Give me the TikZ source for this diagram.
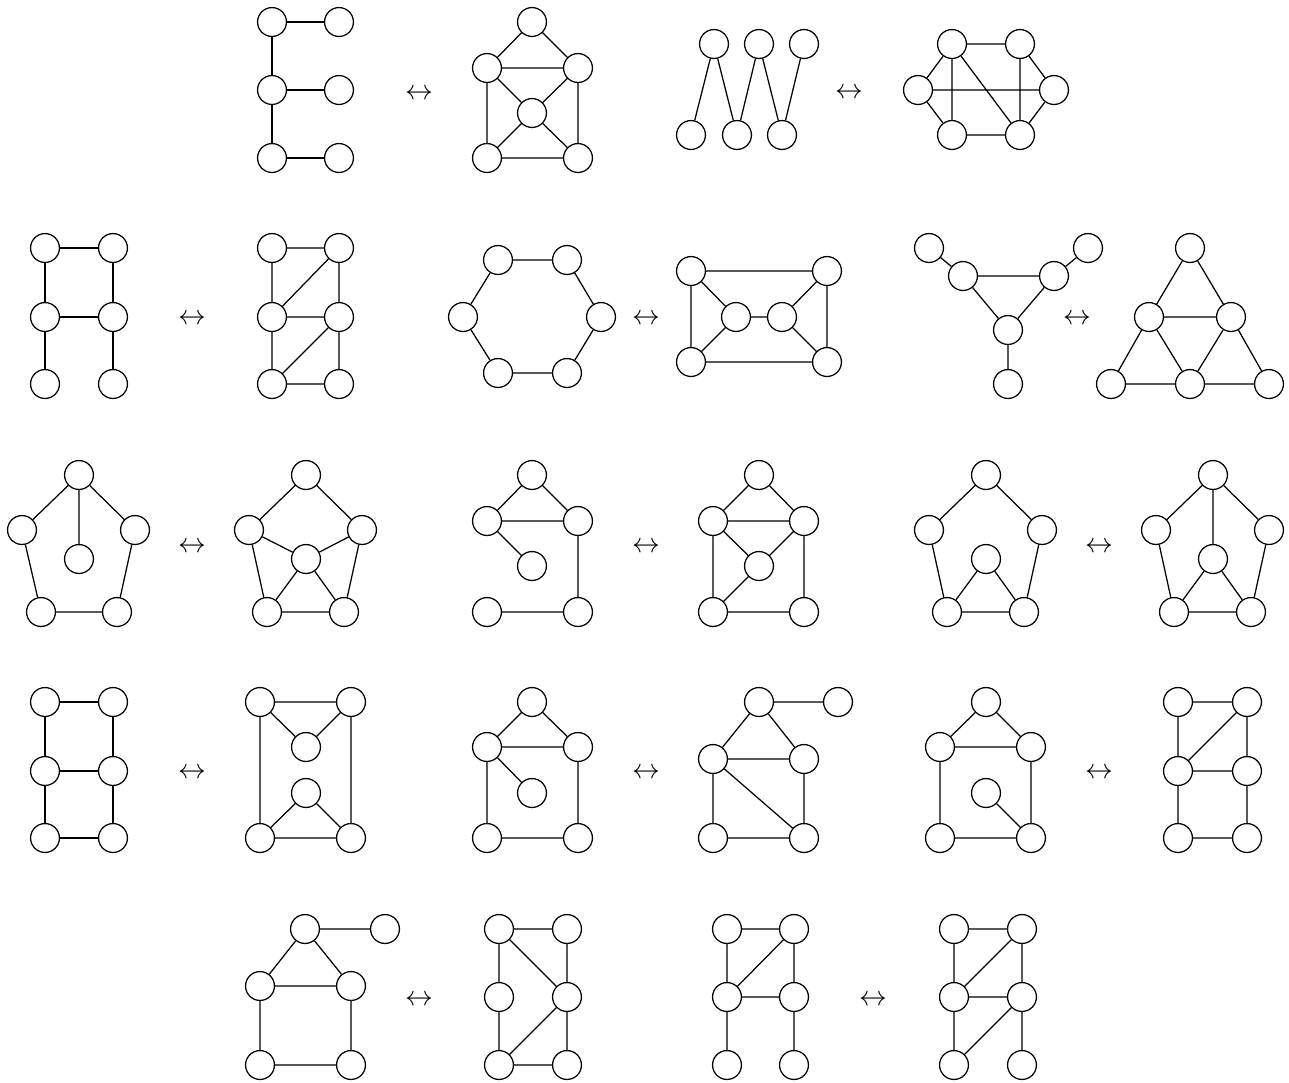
\documentclass[tikz,border=0pt]{standalone}
\begin{document}
\begin{tikzpicture}[x=0.36pt,y=-0.36pt,
  vtx/.style={circle,draw,line width=0.45pt,minimum size=10.4pt,inner sep=0pt},
  arr/.style={inner sep=0pt},
  every path/.style={line width=0.45pt}]
\useasboundingbox (0,0) rectangle (1289,1082);
% ---------- Row 1
\foreach \n/\x/\y in {e1/272/22,e2/339/22,e3/272/90,e4/339/90,e5/272/158,e6/339/158,
  f1/532/22,f2/487/68,f3/578/68,f4/532/113,f5/487/158,f6/578/158,
  w1/714/44,w2/759/44,w3/804/44,w4/691/135,w5/737/135,w6/782/135,
  h1/952/44,h2/1020/44,h3/918/90,h4/1054/90,h5/952/135,h6/1020/135}
  \node[vtx] (\n) at (\x,\y) {};
\node[arr] (ar1) at (419,94) {$\leftrightarrow$};
\node[arr] (ar2) at (849,93) {$\leftrightarrow$};
\draw (e1)--(e2) (e1)--(e3) (e3)--(e4) (e3)--(e5) (e5)--(e6);
\draw (f1)--(f2) (f1)--(f3) (f2)--(f3) (f2)--(f4) (f3)--(f4) (f2)--(f5) (f3)--(f6) (f4)--(f5) (f4)--(f6) (f5)--(f6);
\draw (w1)--(w4) (w1)--(w5) (w2)--(w5) (w2)--(w6) (w3)--(w6);
\draw (h1)--(h2) (h1)--(h3) (h2)--(h4) (h3)--(h5) (h4)--(h6) (h5)--(h6) (h1)--(h5) (h2)--(h6) (h3)--(h4) (h1)--(h6);
% ---------- Row 2
\foreach \n/\x/\y in {a1/45/248,a2/113/248,a3/45/317,a4/113/317,a5/45/384,a6/113/384,
  b1/272/248,b2/339/248,b3/272/317,b4/339/317,b5/272/384,b6/339/384,
  c1/498/260,c2/567/260,c3/463/317,c4/601/317,c5/498/373,c6/567/373,
  d1/691/271,d2/827/271,d3/736/317,d4/782/317,d5/691/362,d6/827/362,
  y1/929/248,y2/963/276,y3/1054/276,y4/1088/248,y5/1008/330,y6/1008/384,
  t1/1190/248,t2/1149/317,t3/1231/317,t4/1111/384,t5/1190/384,t6/1269/384}
  \node[vtx] (\n) at (\x,\y) {};
\node[arr] (ar3) at (192,319) {$\leftrightarrow$};
\node[arr] (ar4) at (646,319) {$\leftrightarrow$};
\node[arr] (ar5) at (1077,319) {$\leftrightarrow$};
\draw (a1)--(a2) (a1)--(a3) (a2)--(a4) (a3)--(a4) (a3)--(a5) (a4)--(a6);
\draw (b1)--(b2) (b1)--(b3) (b2)--(b4) (b3)--(b2) (b3)--(b4) (b3)--(b5) (b4)--(b6) (b5)--(b4) (b5)--(b6);
\draw (c1)--(c2) (c2)--(c4) (c4)--(c6) (c6)--(c5) (c5)--(c3) (c3)--(c1);
\draw (d1)--(d2) (d1)--(d5) (d2)--(d6) (d5)--(d6) (d1)--(d3) (d5)--(d3) (d3)--(d4) (d4)--(d2) (d4)--(d6);
\draw (y1)--(y2) (y2)--(y3) (y3)--(y4) (y2)--(y5) (y3)--(y5) (y5)--(y6);
\draw (t1)--(t2) (t1)--(t3) (t2)--(t3) (t2)--(t4) (t2)--(t5) (t3)--(t5) (t3)--(t6) (t4)--(t5) (t5)--(t6);
% ---------- Row 3
\foreach \n/\x/\y in {p1/79/475,p2/22/530,p3/135/530,p4/79/559,p5/41/612,p6/117/612,
  q1/306/475,q2/249/530,q3/362/530,q4/306/559,q5/267/612,q6/344/612,
  r1/532/475,r2/487/521,r3/578/521,r4/532/566,r5/487/612,r6/578/612,
  s1/759/475,s2/713/521,s3/804/521,s4/759/566,s5/713/612,s6/804/612,
  u1/986/475,u2/929/530,u3/1042/530,u4/986/559,u5/947/612,u6/1024/612,
  v1/1213/475,v2/1156/530,v3/1269/530,v4/1213/559,v5/1174/612,v6/1251/612}
  \node[vtx] (\n) at (\x,\y) {};
\node[arr] (ar6) at (192,547) {$\leftrightarrow$};
\node[arr] (ar7) at (646,547) {$\leftrightarrow$};
\node[arr] (ar8) at (1099,547) {$\leftrightarrow$};
\draw (p1)--(p2) (p1)--(p3) (p1)--(p4) (p2)--(p5) (p3)--(p6) (p5)--(p6);
\draw (q1)--(q2) (q1)--(q3) (q2)--(q4) (q3)--(q4) (q2)--(q5) (q3)--(q6) (q4)--(q5) (q4)--(q6) (q5)--(q6);
\draw (r1)--(r2) (r1)--(r3) (r2)--(r3) (r2)--(r4) (r3)--(r6) (r5)--(r6);
\draw (s1)--(s2) (s1)--(s3) (s2)--(s3) (s2)--(s4) (s3)--(s4) (s2)--(s5) (s3)--(s6) (s4)--(s5) (s5)--(s6);
\draw (u1)--(u2) (u1)--(u3) (u2)--(u5) (u3)--(u6) (u4)--(u5) (u4)--(u6) (u5)--(u6);
\draw (v1)--(v2) (v1)--(v3) (v1)--(v4) (v2)--(v5) (v3)--(v6) (v4)--(v5) (v4)--(v6) (v5)--(v6);
% ---------- Row 4
\foreach \n/\x/\y in {g1/45/702,g2/113/702,g3/45/771,g4/113/771,g5/45/838,g6/113/838,
  k1/260/702,k2/351/702,k3/306/747,k4/306/793,k5/260/838,k6/351/838,
  l1/532/702,l2/487/747,l3/578/747,l4/532/793,l5/487/838,l6/578/838,
  m1/759/702,m2/838/702,m3/713/759,m4/804/759,m5/713/838,m6/804/838,
  n1/986/702,n2/940/747,n3/1031/747,n4/986/793,n5/940/838,n6/1031/838,
  o1/1178/702,o2/1247/702,o3/1178/771,o4/1247/771,o5/1178/838,o6/1247/838}
  \node[vtx] (\n) at (\x,\y) {};
\node[arr] (ar9) at (192,773) {$\leftrightarrow$};
\node[arr] (ar10) at (646,773) {$\leftrightarrow$};
\node[arr] (ar11) at (1099,773) {$\leftrightarrow$};
\draw (g1)--(g2) (g1)--(g3) (g2)--(g4) (g3)--(g4) (g3)--(g5) (g4)--(g6) (g5)--(g6);
\draw (k1)--(k2) (k1)--(k5) (k2)--(k6) (k1)--(k3) (k2)--(k3) (k4)--(k5) (k4)--(k6) (k5)--(k6);
\draw (l1)--(l2) (l1)--(l3) (l2)--(l3) (l2)--(l4) (l2)--(l5) (l3)--(l6) (l5)--(l6);
\draw (m1)--(m2) (m1)--(m3) (m1)--(m4) (m3)--(m4) (m3)--(m5) (m3)--(m6) (m4)--(m6) (m5)--(m6);
\draw (n1)--(n2) (n1)--(n3) (n2)--(n3) (n2)--(n5) (n3)--(n6) (n4)--(n6) (n5)--(n6);
\draw (o1)--(o2) (o1)--(o3) (o2)--(o4) (o3)--(o2) (o3)--(o4) (o3)--(o5) (o4)--(o6) (o5)--(o6);
% ---------- Row 5
\foreach \n/\x/\y in {x1/305/929,x2/385/929,x3/260/986,x4/351/986,x5/260/1065,x6/351/1065,
  z1/499/929,z2/567/929,z3/499/997,z4/567/997,z5/499/1065,z6/567/1065,
  i1/727/929,i2/794/929,i3/727/997,i4/794/997,i5/727/1065,i6/794/1065,
  j1/954/929,j2/1022/929,j3/954/997,j4/1022/997,j5/954/1065,j6/1022/1065}
  \node[vtx] (\n) at (\x,\y) {};
\node[arr] (ar12) at (419,1000) {$\leftrightarrow$};
\node[arr] (ar13) at (873,1000) {$\leftrightarrow$};
\draw (x1)--(x2) (x1)--(x3) (x1)--(x4) (x3)--(x4) (x3)--(x5) (x4)--(x6) (x5)--(x6);
\draw (z1)--(z2) (z1)--(z3) (z1)--(z4) (z2)--(z4) (z3)--(z5) (z4)--(z6) (z5)--(z4) (z5)--(z6);
\draw (i1)--(i2) (i1)--(i3) (i2)--(i4) (i3)--(i2) (i3)--(i4) (i3)--(i5) (i4)--(i6);
\draw (j1)--(j2) (j1)--(j3) (j2)--(j4) (j3)--(j2) (j3)--(j4) (j3)--(j5) (j4)--(j6) (j5)--(j4);
\end{tikzpicture}
\end{document}
